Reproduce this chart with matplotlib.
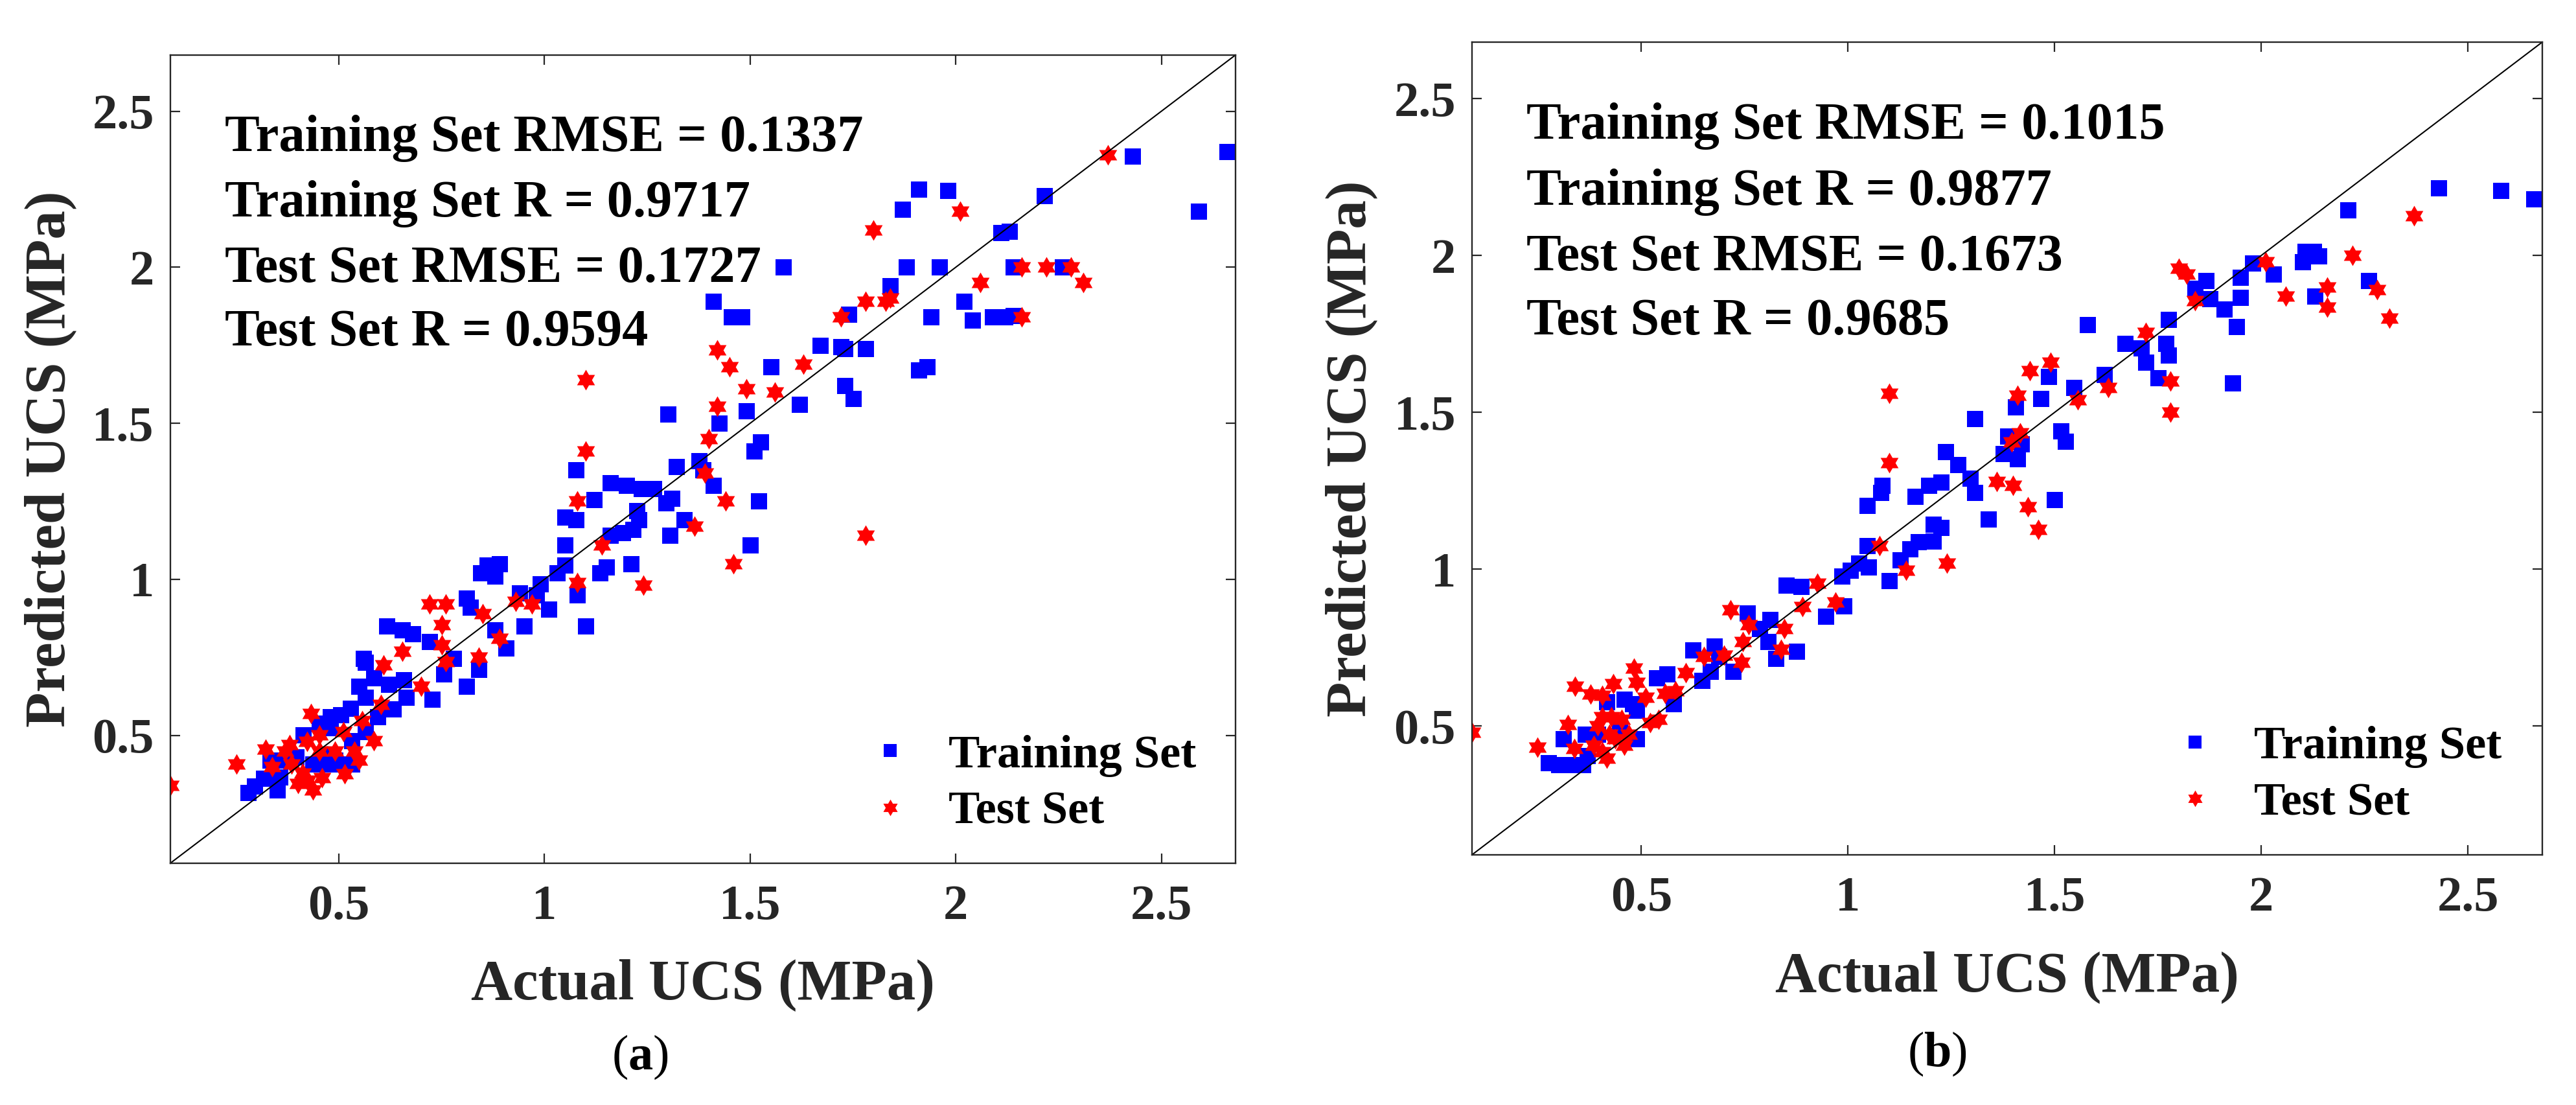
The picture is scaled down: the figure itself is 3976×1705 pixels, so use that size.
import matplotlib
matplotlib.use("Agg")
import matplotlib.pyplot as plt
from matplotlib.path import Path

# ── data (actual, predicted) ──────────────────────────────────────────────────
# panel (a)
a_train_x = [2.66, 2.43, 2.59, 2.215, 1.91, 1.98, 1.87, 1.88, 1.96, 2.11,
             2.13, 2.14, 2.26, 2.02, 2.04, 2.09, 2.12, 2.14, 1.94, 1.84,
             1.74, 1.67, 1.72, 1.73, 1.78, 1.73, 1.75, 1.91, 1.93, 1.62,
             1.58, 1.41, 1.455, 1.48, 1.55, 1.49, 1.425, 1.525, 1.51, 1.52,
             1.50, 1.30, 1.375, 1.385, 1.41, 1.32, 1.31, 1.295, 1.34, 1.305,
             1.265, 1.235, 1.20, 1.16, 1.225, 1.23, 1.215, 1.19, 1.16, 1.21,
             1.15, 1.134, 1.12, 1.077, 1.05, 1.077, 1.05, 1.05, 1.03, 1.10,
             1.08, 0.99, 0.98, 0.94, 1.01, 0.95, 0.89, 0.86, 0.845, 0.88,
             0.81, 0.82, 0.906, 0.88, 0.84, 0.81, 0.755, 0.778, 0.72, 0.68,
             0.655, 0.617, 0.56,
             0.280, 0.295, 0.317, 0.351, 0.356, 0.333, 0.369, 0.396, 0.437, 0.469,
             0.490, 0.532, 0.414, 0.452, 0.480, 0.505, 0.529, 0.548, 0.564, 0.585,
             0.621, 0.658, 0.663, 0.632, 0.595, 0.564, 0.532, 0.480, 0.726, 0.564,
             0.459, 0.500]
a_train_y = [2.37, 2.355, 2.18, 2.23, 2.25, 2.245, 2.185, 2.0, 2.0, 2.11,
             2.115, 2.0, 2.0, 1.89, 1.83, 1.84, 1.84, 1.845, 1.84, 1.94,
             1.85, 1.75, 1.745, 1.74, 1.74, 1.62, 1.58, 1.67, 1.68, 1.56,
             2.00, 1.89, 1.84, 1.84, 1.68, 1.54, 1.50, 1.44, 1.41, 1.25,
             1.11, 1.53, 1.38, 1.35, 1.30, 1.36, 1.26, 1.245, 1.19, 1.14,
             1.29, 1.29, 1.30, 1.31, 1.22, 1.19, 1.16, 1.15, 1.14, 1.05,
             1.04, 1.02, 1.255, 1.35, 1.20, 1.19, 1.11, 1.045, 1.02, 0.85,
             0.95, 0.985, 0.95, 0.957, 0.905, 0.85, 1.05, 1.045, 1.02, 1.01,
             0.94, 0.91, 0.78, 0.837, 0.71, 0.656, 0.697, 0.747, 0.80, 0.826,
             0.837, 0.85, 0.747,
             0.317, 0.338, 0.362, 0.324, 0.366, 0.421, 0.421, 0.431, 0.407, 0.407,
             0.421, 0.407, 0.501, 0.539, 0.560, 0.566, 0.587, 0.657, 0.622, 0.684,
             0.664, 0.677, 0.622, 0.584, 0.560, 0.511, 0.483, 0.525, 0.615, 0.733,
             0.436, 0.407]
a_test_x = [0.09, 2.37, 2.01, 1.80, 2.16, 2.22, 2.28, 2.31, 2.06, 2.16,
            1.78, 1.83, 1.84, 1.72, 1.63, 1.56, 1.49, 1.45, 1.42, 1.42,
            1.40, 1.39, 1.44, 1.365, 1.46, 1.78, 1.24, 1.14, 1.10, 1.10,
            1.08, 1.08, 0.97, 0.93, 0.85, 0.89, 0.84, 0.76, 0.72, 0.75,
            0.75, 0.76, 0.655,
            0.251, 0.432, 0.608, 0.700, 0.603, 0.556, 0.585, 0.514, 0.322, 0.338,
            0.380, 0.422, 0.452, 0.511, 0.490, 0.537, 0.548, 0.411, 0.401, 0.437,
            0.459, 0.424, 0.369, 0.385, 0.453]
a_test_y = [0.339, 2.36, 2.18, 2.12, 2.0, 2.0, 2.0, 1.95, 1.95, 1.84,
            1.89, 1.89, 1.90, 1.84, 1.69, 1.60, 1.61, 1.68, 1.735, 1.555,
            1.45, 1.34, 1.25, 1.17, 1.05, 1.14, 0.98, 1.11, 1.64, 1.41,
            1.25, 0.99, 0.92, 0.93, 0.89, 0.81, 0.75, 0.92, 0.92, 0.855,
            0.79, 0.735, 0.77,
            0.407, 0.570, 0.726, 0.657, 0.598, 0.546, 0.483, 0.376, 0.456, 0.400,
            0.469, 0.480, 0.501, 0.511, 0.449, 0.449, 0.421, 0.379, 0.345, 0.324,
            0.365, 0.355, 0.449, 0.407, 0.449]

# panel (b)
b_train_x = [2.66, 2.58, 2.43, 2.21, 2.26, 2.10, 2.106, 2.126, 2.14, 2.13,
             2.03, 1.98, 1.95, 1.95, 1.94, 1.93, 1.91, 1.876, 1.866, 1.84,
             1.776, 1.77, 1.776, 1.75, 1.72, 1.71, 1.67, 1.58, 1.62, 1.546,
             1.486, 1.466, 1.516, 1.526, 1.50, 1.406, 1.386, 1.42, 1.41, 1.376,
             1.306, 1.34, 1.306, 1.296, 1.266, 1.236, 1.226, 1.196, 1.162, 1.082,
             1.08, 1.046, 1.226, 1.206, 1.206, 1.17, 1.15, 1.126, 1.10, 1.05,
             1.026, 1.006, 0.986, 1.046, 0.99, 0.946, 0.886, 0.85, 0.876, 0.826,
             0.806, 0.786, 0.812, 0.756, 0.722, 0.676,
             0.275, 0.301, 0.332, 0.358, 0.312, 0.364, 0.395, 0.416, 0.458, 0.489,
             0.479, 0.537, 0.562, 0.578, 0.489, 0.625, 0.667, 0.688, 0.646, 0.447,
             0.369]
b_train_y = [2.18, 2.207, 2.216, 2.144, 1.92, 1.98, 2.013, 2.013, 1.998, 1.87,
             1.94, 1.975, 1.93, 1.867, 1.773, 1.593, 1.83, 1.863, 1.92, 1.896,
             1.795, 1.72, 1.683, 1.61, 1.66, 1.705, 1.72, 1.78, 1.62, 1.58,
             1.615, 1.543, 1.44, 1.408, 1.222, 1.518, 1.424, 1.40, 1.352, 1.368,
             1.48, 1.16, 1.244, 1.29, 1.334, 1.375, 1.278, 1.267, 1.233, 1.267,
             1.244, 1.204, 1.132, 1.143, 1.09, 1.087, 1.064, 1.03, 0.963, 1.008,
             1.02, 0.997, 0.979, 1.075, 0.884, 0.85, 0.945, 0.95, 0.738, 0.715,
             0.77, 0.81, 0.84, 0.86, 0.675, 0.754,
             0.384, 0.378, 0.378, 0.378, 0.460, 0.474, 0.474, 0.578, 0.585, 0.550,
             0.571, 0.653, 0.667, 0.571, 0.460, 0.743, 0.674, 0.722, 0.646, 0.488,
             0.405]
b_test_x = [0.09, 2.37, 2.01, 1.80, 1.82, 2.22, 2.28, 2.31, 2.06, 2.16,
            2.16, 1.84, 1.72, 1.78, 1.78, 1.63, 1.556, 1.49, 1.44, 1.41,
            1.416, 1.396, 1.36, 1.40, 1.436, 1.46, 1.10, 1.10, 1.076, 1.14,
            1.24, 0.926, 0.97, 0.89, 0.846, 0.838, 0.716, 0.76, 0.746, 0.742,
            0.70,
            0.249, 0.322, 0.338, 0.340, 0.377, 0.406, 0.432, 0.482, 0.489, 0.510,
            0.557, 0.583, 0.607, 0.651, 0.542, 0.522, 0.406, 0.427, 0.452, 0.395,
            0.422, 0.385, 0.406, 0.416, 0.458, 0.469, 0.437]
b_test_y = [0.48, 2.126, 1.98, 1.96, 1.94, 2.0, 1.89, 1.80, 1.87, 1.90,
            1.835, 1.856, 1.755, 1.60, 1.50, 1.58, 1.54, 1.66, 1.633, 1.555,
            1.435, 1.406, 1.28, 1.267, 1.20, 1.127, 1.56, 1.34, 1.075, 0.997,
            1.02, 0.956, 0.895, 0.88, 0.81, 0.745, 0.87, 0.823, 0.77, 0.704,
            0.727,
            0.433, 0.505, 0.429, 0.626, 0.602, 0.599, 0.636, 0.684, 0.640, 0.591,
            0.605, 0.612, 0.671, 0.722, 0.522, 0.512, 0.529, 0.529, 0.522, 0.502,
            0.474, 0.440, 0.419, 0.398, 0.440, 0.474, 0.460]

a_stats = ["Training Set RMSE = 0.1337", "Training Set R = 0.9717",
           "Test Set RMSE = 0.1727", "Test Set R = 0.9594"]
b_stats = ["Training Set RMSE = 0.1015", "Training Set R = 0.9877",
           "Test Set RMSE = 0.1673", "Test Set R = 0.9685"]

lims = (0.09, 2.68)
ticks = [0.5, 1, 1.5, 2, 2.5]
tick_labels = ["0.5", "1", "1.5", "2", "2.5"]

# ── style ─────────────────────────────────────────────────────────────────────
plt.rcParams["font.family"] = "Liberation Serif"
plt.rcParams["font.weight"] = "bold"
plt.rcParams["axes.labelweight"] = "bold"
plt.rcParams["mathtext.fontset"] = "custom"
plt.rcParams["mathtext.rm"] = "Liberation Serif"
plt.rcParams["mathtext.bf"] = "Liberation Serif:bold"

hexagram = Path.unit_regular_star(6, 0.577)
spine_col = "#262626"

fig = plt.figure(figsize=(39.76, 17.05), dpi=100)
ax_a = fig.add_axes([0.0661, 0.2188, 0.4135, 0.7314])
ax_b = fig.add_axes([0.5714, 0.2264, 0.4155, 0.7355])

panels = [
    (ax_a, a_train_x, a_train_y, a_test_x, a_test_y, a_stats, "a", 0.2485, 0.0434),
    (ax_b, b_train_x, b_train_y, b_test_x, b_test_y, b_stats, "b", 0.752, 0.046),
]

for ax, trx, try_, tex, tey, stats, tag, px, py in panels:
    h1, = ax.plot(trx, try_, linestyle="none", marker="s", markersize=18,
                  color="#0000FF", markeredgewidth=0, label="Training Set")
    h2, = ax.plot(tex, tey, linestyle="none", marker=hexagram, markersize=23,
                  color="#FF0000", markeredgewidth=0, label="Test Set")
    ax.plot(lims, lims, color="black", linewidth=1.5)

    ax.set_xlim(lims)
    ax.set_ylim(lims)
    ax.set_xticks(ticks)
    ax.set_yticks(ticks)
    ax.set_xticklabels(tick_labels)
    ax.set_yticklabels(tick_labels)
    ax.tick_params(direction="in", length=11, width=1.6, colors=spine_col,
                   labelcolor="#262626", labelsize=55, top=True, right=True)
    ax.tick_params(axis="x", pad=24)
    ax.tick_params(axis="y", pad=18)
    for sp in ax.spines.values():
        sp.set_linewidth(1.7)
        sp.set_color(spine_col)

    ax.set_xlabel("Actual UCS (MPa)", fontsize=64, color="#262626", fontweight="bold")
    ax.set_ylabel("Predicted UCS (MPa)", fontsize=64, color="#262626", fontweight="bold")
    ax.xaxis.set_label_coords(0.5, -0.118)
    ax.yaxis.set_label_coords(-0.088, 0.5)

    for i, s in enumerate(stats):
        ax.text(0.051, [0.8966, 0.8156, 0.7346, 0.656][i], s, transform=ax.transAxes,
                fontsize=58, ha="left", va="center", color="black")

    ax.legend(handles=[h1, h2], loc="lower left", bbox_to_anchor=(0.654, 0.037),
              frameon=False, fontsize=52, handlelength=1.0, handletextpad=0.75,
              labelspacing=0.30, borderpad=0, borderaxespad=0, markerscale=0.8)

    fig.text(px, py, "(" + r"$\mathbf{" + tag + "}$" + ")", fontsize=55,
             fontweight="normal", ha="center", va="center")

fig.savefig("out.png", dpi=100)
